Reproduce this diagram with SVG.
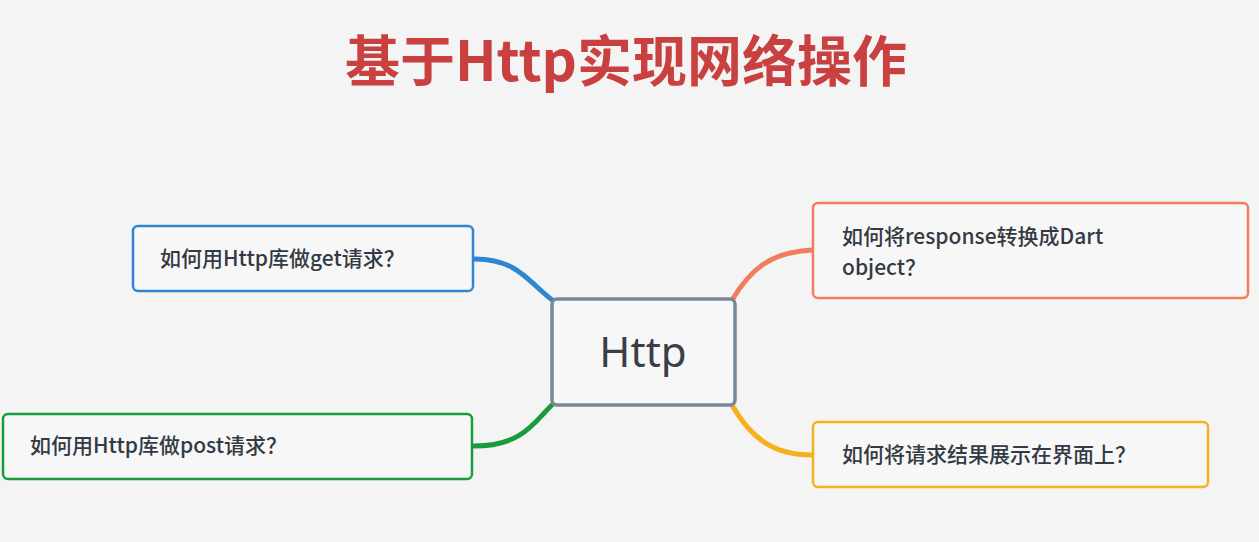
<svg xmlns="http://www.w3.org/2000/svg" width="1259" height="542" viewBox="0 0 1259 542">
<style>
.t{font-family:"Noto Sans CJK SC","Noto Sans",sans-serif;font-size:21px;font-weight:500;fill:#333a44}
.b{fill:#f7f7f7;stroke-width:2.5}
.c{fill:none;stroke-width:5;stroke-linecap:round}
</style>
<rect width="1259" height="542" fill="#f4f4f4"/>
<text x="626" y="81" text-anchor="middle" font-family="Noto Sans CJK SC,sans-serif" font-weight="bold" font-size="55" fill="#c8403f">基于Http实现网络操作</text>
<g id="connectors">
<path class="c" stroke="#2f86d3" d="M475,259 C520,259 530,285 555,302"/>
<path class="c" stroke="#1a9c3e" d="M474,446 C525,446 535,420 555,402"/>
<path class="c" stroke="#f07d5e" d="M812,250 C770,252 750,270 732,300"/>
<path class="c" stroke="#f6b01e" d="M732,405 C752,440 775,455 812,455"/>
</g>
<g id="center"><rect x="552" y="299" width="183" height="106" rx="5" fill="#f7f7f7" stroke="#77889a" stroke-width="3.5"/>
<text x="643" y="367" text-anchor="middle" font-family="Noto Sans,sans-serif" font-size="42" fill="#3a3f47">Http</text></g>
<g id="n1"><rect class="b" x="133" y="226" width="340" height="65" rx="5" stroke="#2f86d3"/><text class="t" x="160" y="266">如何用Http库做get请求？</text></g>
<g id="n2"><rect class="b" x="3" y="414" width="469" height="65" rx="5" stroke="#1a9c3e"/><text class="t" x="30" y="453">如何用Http库做post请求？</text></g>
<g id="n3"><rect class="b" x="813" y="203" width="435" height="95" rx="5" stroke="#f07d5e"/><text class="t" x="842" y="244">如何将response转换成Dart</text><text class="t" x="842" y="275">object？</text></g>
<g id="n4"><rect class="b" x="813" y="422" width="395" height="65" rx="5" stroke="#f6b01e"/><text class="t" x="842" y="462">如何将请求结果展示在界面上？</text></g>
</svg>
